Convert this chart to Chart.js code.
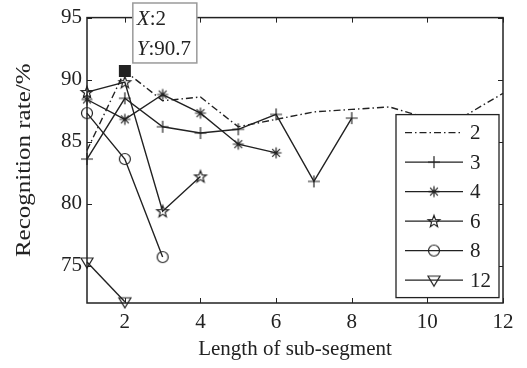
<!DOCTYPE html>
<html>
<head>
<meta charset="utf-8">
<script src="https://cdn.jsdelivr.net/npm/chart.js@4/dist/chart.umd.min.js"></script>
<style>
  html, body { margin: 0; padding: 0; background: #fff; }
  #wrap { width: 527px; height: 368px; }
</style>
</head>
<body>
<div id="wrap"><canvas id="c"></canvas></div>
<script>
// data
const xValues = [1, 2, 3, 4, 5, 6, 7, 8, 9, 10, 11, 12];
const seg2 = [84.3, 90.7, 88.3, 88.6, 86.2, 86.8, 87.4, 87.6, 87.8, 86.9, 87.1, 88.9];
const seg3 = [83.6, 88.5, 86.2, 85.7, 86.0, 87.2, 81.8, 86.9];
const seg4 = [88.4, 86.8, 88.8, 87.3, 84.8, 84.1];
const seg6 = [89.0, 89.8, 79.4, 82.2];
const seg8 = [87.3, 83.6, 75.7];
const seg12 = [75.3, 72.1];
const legendLabels = ["2", "3", "4", "6", "8", "12"];
const xTicks = [2, 4, 6, 8, 10, 12];
const yTicks = [75, 80, 85, 90, 95];
const yTitle = "Recognition rate/%";
const tipIndex = 1; // datatip on series "2" at x = 2

const ink = "#222";
const serif = "'Liberation Serif', 'Times New Roman', serif";

// marker images (MATLAB style)
function mk(kind) {
  const s = 18, m = 9;
  const c = document.createElement("canvas");
  c.width = s; c.height = s;
  const g = c.getContext("2d");
  g.strokeStyle = ink; g.fillStyle = ink; g.lineWidth = 1.2;
  g.beginPath();
  if (kind === "plus") {
    g.moveTo(m - 6, m); g.lineTo(m + 6, m);
    g.moveTo(m, m - 6); g.lineTo(m, m + 6);
  } else if (kind === "aster") {
    for (let k = 0; k < 4; k++) {
      const a = k * Math.PI / 4;
      g.moveTo(m - 5.5 * Math.cos(a), m - 5.5 * Math.sin(a));
      g.lineTo(m + 5.5 * Math.cos(a), m + 5.5 * Math.sin(a));
    }
  } else if (kind === "circle") {
    g.arc(m, m, 5.5, 0, 2 * Math.PI);
  } else if (kind === "tri") {
    g.moveTo(m - 6, m - 4); g.lineTo(m + 6, m - 4); g.lineTo(m, m + 6); g.closePath();
  } else if (kind === "pent") {
    for (let k = 0; k < 10; k++) {
      const r = k % 2 ? 2.6 : 6.2;
      const a = -Math.PI / 2 + k * Math.PI / 5;
      const px = m + r * Math.cos(a), py = m + 0.5 + r * Math.sin(a);
      k ? g.lineTo(px, py) : g.moveTo(px, py);
    }
    g.closePath();
  } else if (kind === "square") {
    g.fillRect(m - 6, m - 6, 12, 12);
    return c;
  }
  g.stroke();
  return c;
}

const markers = [null, mk("plus"), mk("aster"), mk("pent"), mk("circle"), mk("tri")];
const squareMark = mk("square");
const dashDot = [7, 3, 1.5, 3];

const series = [seg2, seg3, seg4, seg6, seg8, seg12];
const datasets = series.map((arr, i) => ({
  label: legendLabels[i],
  data: arr.map((v, k) => ({ x: xValues[k], y: v })),
  borderColor: ink,
  backgroundColor: ink,
  borderWidth: 1.4,
  borderDash: i === 0 ? dashDot : [],
  tension: 0,
  pointStyle: i === 0 ? squareMark : markers[i],
  pointRadius: i === 0 ? arr.map((v, k) => k === tipIndex ? 6 : 0) : 5,
  clip: 8
}));

const boxPlugin = {
  id: "matlabBox",
  afterDatasetsDraw(chart) {
    const { ctx, chartArea: a, scales: { x, y } } = chart;
    ctx.save();
    ctx.strokeStyle = ink;
    ctx.lineWidth = 1.5;
    ctx.strokeRect(a.left, a.top, a.right - a.left, a.bottom - a.top);
    ctx.lineWidth = 1;
    ctx.beginPath();
    xTicks.forEach(v => {
      const px = Math.round(x.getPixelForValue(v)) + 0.5;
      ctx.moveTo(px, a.bottom); ctx.lineTo(px, a.bottom - 5);
      ctx.moveTo(px, a.top); ctx.lineTo(px, a.top + 5);
    });
    yTicks.forEach(v => {
      const py = Math.round(y.getPixelForValue(v)) + 0.5;
      ctx.moveTo(a.left, py); ctx.lineTo(a.left + 5, py);
      ctx.moveTo(a.right, py); ctx.lineTo(a.right - 5, py);
    });
    ctx.stroke();
    ctx.restore();
  },
  afterDraw(chart) {
    const { ctx, chartArea: a, scales: { x, y } } = chart;
    ctx.save();

    // y title, stretched along its length like the source figure
    ctx.save();
    ctx.translate(24, (a.top + a.bottom) / 2);
    ctx.rotate(-Math.PI / 2);
    ctx.scale(1.19, 1);
    ctx.font = "21px " + serif;
    ctx.fillStyle = ink;
    ctx.textAlign = "center";
    ctx.textBaseline = "middle";
    ctx.fillText(yTitle, 0, 0);
    ctx.restore();

    // legend box
    const lx = a.right - 107, ly = a.top + 97, lw = 103, lh = 183;
    ctx.fillStyle = "#fff";
    ctx.fillRect(lx, ly, lw, lh);
    ctx.strokeStyle = ink;
    ctx.lineWidth = 1.3;
    ctx.strokeRect(lx, ly, lw, lh);
    ctx.font = "21px " + serif;
    ctx.textBaseline = "middle";
    ctx.fillStyle = ink;
    chart.data.datasets.forEach((ds, i) => {
      const yy = ly + 18 + i * 29.5;
      ctx.beginPath();
      ctx.setLineDash(ds.borderDash);
      ctx.lineWidth = 1.3;
      ctx.moveTo(lx + 9, yy); ctx.lineTo(lx + 67, yy);
      ctx.stroke();
      ctx.setLineDash([]);
      if (markers[i]) ctx.drawImage(markers[i], lx + 38 - 9, yy - 9);
      ctx.fillText(ds.label, lx + 74, yy + 1);
    });

    // datatip
    const px = x.getPixelForValue(xValues[tipIndex]);
    const py = y.getPixelForValue(seg2[tipIndex]);
    const bx = px + 8, bb = py - 8, bt = 3, bw = 64;
    ctx.fillStyle = "#fff";
    ctx.fillRect(bx, bt, bw, bb - bt);
    ctx.strokeStyle = "#9a9a9a";
    ctx.lineWidth = 1.5;
    ctx.strokeRect(bx, bt, bw, bb - bt);
    ctx.fillStyle = ink;
    ctx.textBaseline = "alphabetic";
    const line = (lab, val, yy) => {
      ctx.font = "italic 21px " + serif;
      ctx.fillText(lab, bx + 4, yy);
      const w = ctx.measureText(lab).width;
      ctx.font = "21px " + serif;
      ctx.fillText(":" + val, bx + 4 + w, yy);
    };
    line("X", String(xValues[tipIndex]), bt + 22);
    line("Y", seg2[tipIndex].toFixed(1), bt + 52);
    ctx.restore();
  }
};

new Chart(document.getElementById("c"), {
  type: "line",
  data: { datasets },
  options: {
    responsive: true,
    maintainAspectRatio: false,
    animation: false,
    events: [],
    layout: { padding: { top: 17, right: 24, left: 0, bottom: 0 } },
    plugins: { legend: { display: false }, tooltip: { enabled: false } },
    scales: {
      x: {
        type: "linear",
        min: 1, max: 12,
        grid: { display: false, drawTicks: false },
        border: { display: false },
        afterBuildTicks: s => { s.ticks = xTicks.map(v => ({ value: v })); },
        afterFit: s => { s.height = 65; },
        ticks: { color: ink, font: { family: serif, size: 21 }, padding: 7, maxRotation: 0, autoSkip: false },
        title: { display: true, text: "Length of sub-segment", color: ink, font: { family: serif, size: 21 }, padding: { bottom: 6 } }
      },
      y: {
        type: "linear",
        min: 72, max: 95,
        grid: { display: false, drawTicks: false },
        border: { display: false },
        afterBuildTicks: s => { s.ticks = yTicks.map(v => ({ value: v })); },
        afterFit: s => { s.width = 87; },
        ticks: { color: ink, font: { family: serif, size: 21 }, padding: 5 }
      }
    }
  },
  plugins: [boxPlugin]
});
</script>
</body>
</html>
